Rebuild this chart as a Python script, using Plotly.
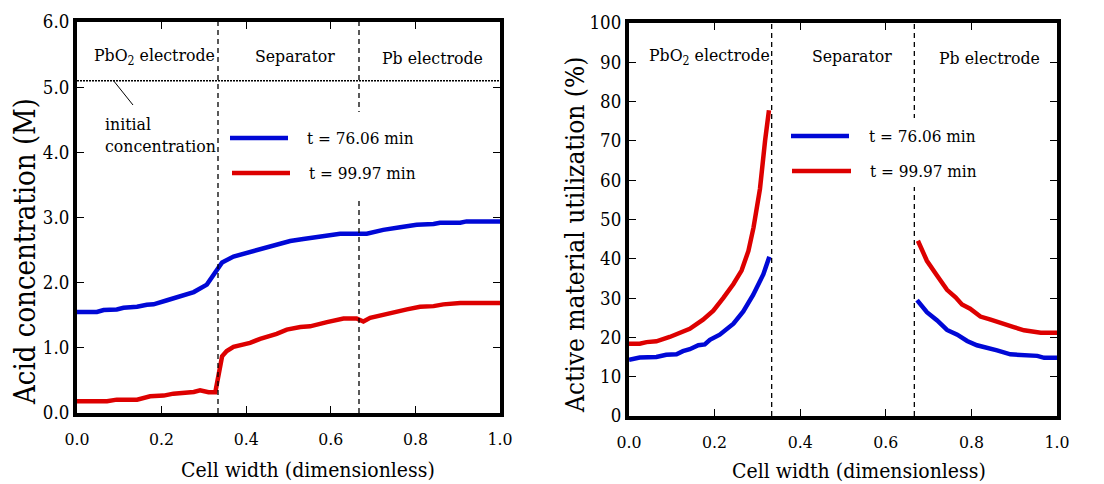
import plotly.graph_objects as go

W, H = 1104, 484
FONT = "DejaVu Serif Condensed, DejaVu Serif"
BLUE = "#0008d6"
RED = "#dd0000"

# ---------------- data ----------------
region_bounds = [1 / 3, 2 / 3]
initial_conc = 5.1

# Acid concentration (M), t = 76.06 min
conc_x_t1 = [0.0, 0.047, 0.063, 0.094, 0.11, 0.142, 0.165, 0.181, 0.213, 0.244, 0.276,
             0.307, 0.323, 0.332, 0.343, 0.37, 0.409, 0.449, 0.504, 0.535, 0.567, 0.606,
             0.622, 0.685, 0.724, 0.764, 0.803, 0.843, 0.858, 0.906, 0.921, 1.0]
conc_t1 = [1.55, 1.55, 1.58, 1.59, 1.615, 1.63, 1.66, 1.667, 1.73, 1.795, 1.856,
           1.97, 2.13, 2.23, 2.31, 2.4, 2.47, 2.55, 2.64, 2.67, 2.70, 2.73,
           2.75, 2.75, 2.81, 2.85, 2.89, 2.90, 2.92, 2.92, 2.94, 2.94]

# Acid concentration (M), t = 99.97 min
conc_x_t2 = [0.0, 0.071, 0.094, 0.142, 0.173, 0.205, 0.228, 0.252, 0.276, 0.291, 0.311,
             0.327, 0.343, 0.354, 0.37, 0.409, 0.433, 0.472, 0.496, 0.528, 0.551, 0.591,
             0.606, 0.63, 0.661, 0.677, 0.693, 0.724, 0.764, 0.78, 0.811, 0.843, 0.866,
             0.89, 0.906, 1.0]
conc_t2 = [0.18, 0.18, 0.205, 0.205, 0.256, 0.267, 0.297, 0.308, 0.323, 0.349, 0.318,
           0.318, 0.87, 0.95, 1.015, 1.077, 1.138, 1.215, 1.28, 1.32, 1.33, 1.395,
           1.42, 1.45, 1.45, 1.405, 1.46, 1.51, 1.57, 1.59, 1.63, 1.64, 1.667,
           1.677, 1.687, 1.687]

# Active material utilization (%), t = 76.06 min
util_x_t1_pbo2 = [0.0, 0.025, 0.064, 0.087, 0.111, 0.126, 0.142, 0.162, 0.177, 0.189,
                  0.212, 0.244, 0.267, 0.29, 0.314, 0.328]
util_t1_pbo2 = [14.3, 14.9, 15.0, 15.6, 15.7, 16.5, 17.0, 18.0, 18.2, 19.4,
                20.7, 23.5, 26.6, 30.8, 36.1, 40.5]
util_x_t1_pb = [0.673, 0.696, 0.72, 0.743, 0.767, 0.79, 0.813, 0.837, 0.86, 0.891,
                0.923, 0.954, 0.97, 1.0]
util_t1_pb = [29.5, 26.4, 24.3, 21.9, 20.7, 19.1, 18.0, 17.4, 16.7, 15.7,
              15.4, 15.3, 14.8, 14.8]

# Active material utilization (%), t = 99.97 min
util_x_t2_pbo2 = [0.0, 0.025, 0.041, 0.064, 0.095, 0.111, 0.142, 0.173, 0.197, 0.22,
                  0.244, 0.263, 0.279, 0.291, 0.306, 0.318, 0.327]
util_t2_pbo2 = [18.4, 18.4, 18.8, 19.0, 20.1, 20.9, 22.2, 24.5, 26.8, 30.0,
                33.6, 37.0, 42.0, 48.0, 57.8, 70.1, 77.8]
util_x_t2_pb = [0.675, 0.685, 0.696, 0.72, 0.743, 0.763, 0.778, 0.797, 0.821, 0.845,
                0.868, 0.899, 0.923, 0.946, 0.962, 1.0]
util_t2_pb = [44.6, 42.0, 39.5, 35.7, 32.1, 30.2, 28.4, 27.3, 25.3, 24.5,
              23.6, 22.6, 21.8, 21.5, 21.2, 21.2]

series_names = ["t = 76.06 min", "t = 99.97 min"]
region_names = ["PbO<sub>2</sub> electrode", "Separator", "Pb electrode"]

# ---------------- helpers ----------------
def px(x):
    return x / W


def py(y):
    return 1 - y / H


fig = go.Figure()

line_w = 4.5
fig.add_trace(go.Scatter(x=conc_x_t1, y=conc_t1, xaxis="x", yaxis="y", mode="lines",
                         line=dict(color=BLUE, width=line_w), name=series_names[0], showlegend=False))
fig.add_trace(go.Scatter(x=conc_x_t2, y=conc_t2, xaxis="x", yaxis="y", mode="lines",
                         line=dict(color=RED, width=line_w), name=series_names[1], showlegend=False))
fig.add_trace(go.Scatter(x=util_x_t1_pbo2, y=util_t1_pbo2, xaxis="x2", yaxis="y2", mode="lines",
                         line=dict(color=BLUE, width=line_w), name=series_names[0], showlegend=False))
fig.add_trace(go.Scatter(x=util_x_t1_pb, y=util_t1_pb, xaxis="x2", yaxis="y2", mode="lines",
                         line=dict(color=BLUE, width=line_w), name=series_names[0], showlegend=False))
fig.add_trace(go.Scatter(x=util_x_t2_pbo2, y=util_t2_pbo2, xaxis="x2", yaxis="y2", mode="lines",
                         line=dict(color=RED, width=line_w), name=series_names[1], showlegend=False))
fig.add_trace(go.Scatter(x=util_x_t2_pb, y=util_t2_pb, xaxis="x2", yaxis="y2", mode="lines",
                         line=dict(color=RED, width=line_w), name=series_names[1], showlegend=False))

axis_common = dict(
    showline=True, linecolor="black", linewidth=4, mirror="ticks",
    ticks="inside", ticklen=7, tickwidth=1.3, tickcolor="black",
    showgrid=False, zeroline=False, automargin=False,
)
xfont = dict(family=FONT, size=17.5, color="black")
yfont = dict(family=FONT, size=18.5, color="black")

fig.update_layout(
    width=W, height=H, autosize=False,
    margin=dict(l=0, r=0, t=0, b=0, autoexpand=False),
    paper_bgcolor="white", plot_bgcolor="white",
    font=dict(family=FONT, color="black", size=17),
    showlegend=False,
    xaxis=dict(domain=[px(77), px(500)], range=[0, 1], tick0=0, dtick=0.2, tickformat=".1f",
               anchor="y", tickfont=xfont, ticklabelstandoff=7, **axis_common),
    yaxis=dict(domain=[py(413), py(22)], range=[0, 6], tick0=0, dtick=1, tickformat=".1f",
               anchor="x", tickfont=yfont, **axis_common),
    xaxis2=dict(domain=[px(629), px(1057)], range=[0, 1], tick0=0, dtick=0.2, tickformat=".1f",
                anchor="y2", tickfont=xfont, ticklabelstandoff=7, **axis_common),
    yaxis2=dict(domain=[py(416), py(23)], range=[0, 100], tick0=0, dtick=10,
                anchor="x2", tickfont=yfont, **axis_common),
)

shapes = []
dash = dict(color="black", width=1.3, dash="5px,4px")
for xr, yr in (("x", "y"), ("x2", "y2")):
    for b in region_bounds:
        shapes.append(dict(type="line", xref=xr, yref=yr + " domain", x0=b, x1=b, y0=0, y1=1,
                           line=dash, layer="above"))

# initial concentration dotted line
shapes.append(dict(type="line", xref="x domain", yref="y", x0=0, x1=1, y0=initial_conc, y1=initial_conc,
                   line=dict(color="black", width=1.5, dash="2px,1px"), layer="above"))
# leader line to "initial concentration"
shapes.append(dict(type="line", xref="paper", yref="paper", x0=px(113), y0=py(80), x1=px(133), y1=py(105),
                   line=dict(color="black", width=1), layer="above"))

# legend backgrounds (mask dashed lines)
shapes.append(dict(type="rect", xref="paper", yref="paper", x0=px(340), x1=px(380), y0=py(200), y1=py(112),
                   fillcolor="white", line=dict(width=0), layer="above"))
shapes.append(dict(type="rect", xref="paper", yref="paper", x0=px(900), x1=px(932), y0=py(187), y1=py(118),
                   fillcolor="white", line=dict(width=0), layer="above"))

# legend samples
legend_items = [
    # (x0, x1, y, color) in pixels
    (230, 288, 138, BLUE), (232, 290, 173, RED),
    (791, 849, 136, BLUE), (792, 851, 171, RED),
]
for x0, x1, yy, c in legend_items:
    shapes.append(dict(type="line", xref="paper", yref="paper", x0=px(x0), x1=px(x1), y0=py(yy), y1=py(yy),
                       line=dict(color=c, width=4.5), layer="above"))

fig.update_layout(shapes=shapes)

ann = []


def text(x, y, s, size=17, xanchor="center", angle=0, family=FONT):
    ann.append(dict(xref="paper", yref="paper", x=px(x), y=py(y), text=s, showarrow=False,
                    xanchor=xanchor, yanchor="middle", textangle=angle,
                    font=dict(family=family, size=size, color="black")))


# region labels
text(154, 56, region_names[0], size=17.5)
text(295, 56, region_names[1], size=17.5)
text(432, 58, region_names[2], size=17.5)
text(709, 56, region_names[0], size=17.5)
text(852, 56, region_names[1], size=17.5)
text(989, 58, region_names[2], size=17.5)

# initial concentration label
text(103, 124, "initial", size=17.5, xanchor="left")
text(103, 146, "concentration", size=17.5, xanchor="left")

# legend texts
text(305, 138, series_names[0], xanchor="left")
text(307, 173, series_names[1], xanchor="left")
text(867, 136, series_names[0], xanchor="left")
text(868, 171, series_names[1], xanchor="left")

# axis titles
text(308, 470, "Cell width (dimensionless)", size=21)
text(859, 471, "Cell width (dimensionless)", size=21)
text(25, 252, "Acid concentration (M)", size=29, angle=-90)
text(575, 235, "Active material utilization (%)", size=26, angle=-90)

fig.update_layout(annotations=ann)

fig.write_html("out.html", post_script="document.body.style.margin='0px';",
               config={"displayModeBar": False})
